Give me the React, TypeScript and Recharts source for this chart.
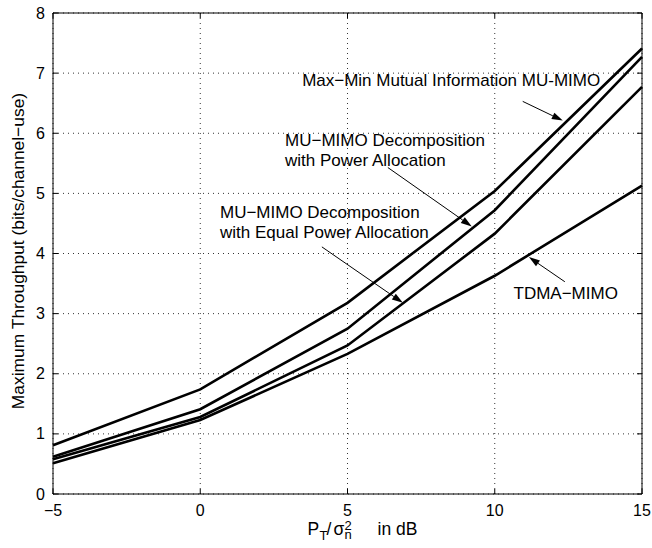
import React from "react";
import {
  LineChart, Line, XAxis, YAxis, CartesianGrid, ReferenceLine, ReferenceDot,
} from "recharts";

// SNR points (dB) and the four throughput curves
const snrDb = [-5, 0, 5, 10, 15];
const maxMinMI = [0.81, 1.74, 3.18, 5.04, 7.41];
const decompPowerAlloc = [0.62, 1.41, 2.75, 4.72, 7.27];
const decompEqualPower = [0.58, 1.28, 2.47, 4.33, 6.77];
const tdmaMimo = [0.51, 1.23, 2.33, 3.63, 5.13];

const xTicks = [-5, 0, 5, 10, 15];
const yTicks = [0, 1, 2, 3, 4, 5, 6, 7, 8];

const data = snrDb.map((x, i) => ({
  x,
  maxMin: maxMinMI[i],
  powerAlloc: decompPowerAlloc[i],
  equalPower: decompEqualPower[i],
  tdma: tdmaMimo[i],
}));

// annotation text + arrows, in data coordinates
const notes = [
  { x: 8.52, y: 6.89, anchor: "middle", lines: ["Max\u2212Min Mutual Information MU-MIMO"] },
  { x: 2.88, y: 5.88, anchor: "start", lines: ["MU\u2212MIMO Decomposition", "with Power Allocation"] },
  { x: 0.67, y: 4.69, anchor: "start", lines: ["MU\u2212MIMO Decomposition", "with Equal Power Allocation"] },
  { x: 12.41, y: 3.34, anchor: "middle", lines: ["TDMA\u2212MIMO"] },
];
const arrows = [
  [{ x: 10.95, y: 6.53 }, { x: 12.31, y: 6.21 }],
  [{ x: 6.37, y: 5.43 }, { x: 9.22, y: 4.45 }],
  [{ x: 4.13, y: 4.11 }, { x: 6.88, y: 3.18 }],
  [{ x: 12.38, y: 3.53 }, { x: 11.16, y: 3.94 }],
];

const W = 652;
const H = 548;
const LEFT = 53;
const TOP = 13;
const RIGHT = 10;
const BOTTOM = 54;
const PLOT_W = W - LEFT - RIGHT;
const PLOT_H = H - TOP - BOTTOM;
const FONT = '"Liberation Sans", Arial, Helvetica, sans-serif';

const fmt = (v: number) => String(v).replace("-", "\u2212");

function XTick(props: any) {
  const { x, payload } = props;
  const axisY = TOP + PLOT_H;
  return (
    <g>
      <line x1={x} y1={axisY} x2={x} y2={axisY - 5} stroke="#000" />
      <line x1={x} y1={TOP} x2={x} y2={TOP + 5} stroke="#000" />
      <text x={x} y={axisY + 22} textAnchor="middle" fontSize={16} fontFamily={FONT} fill="#000">
        {fmt(payload.value)}
      </text>
    </g>
  );
}

function YTick(props: any) {
  const { y, payload } = props;
  return (
    <g>
      <line x1={LEFT} y1={y} x2={LEFT + 5} y2={y} stroke="#000" />
      <line x1={LEFT + PLOT_W} y1={y} x2={LEFT + PLOT_W - 5} y2={y} stroke="#000" />
      <text x={LEFT - 8} y={y + 5.5} textAnchor="end" fontSize={16} fontFamily={FONT} fill="#000">
        {fmt(payload.value)}
      </text>
    </g>
  );
}

function XLabel(props: any) {
  const { viewBox } = props;
  const x0 = viewBox.x + viewBox.width / 2 - 40;
  const y0 = 535;
  return (
    <text x={x0} y={y0} fontSize={17.5} fontFamily={FONT} fill="#000">
      <tspan x={x0} y={y0}>P</tspan>
      <tspan x={x0 + 12} y={y0 + 5} fontSize={13}>T</tspan>
      <tspan x={x0 + 19} y={y0}>/</tspan>
      <tspan x={x0 + 26} y={y0}>σ</tspan>
      <tspan x={x0 + 37} y={y0 + 3.5} fontSize={13}>n</tspan>
      <tspan x={x0 + 37} y={y0 - 5} fontSize={13}>2</tspan>
      <tspan x={x0 + 70} y={y0}>in dB</tspan>
    </text>
  );
}

function YLabel() {
  const cx = 18;
  const cy = 251;
  return (
    <text x={cx} y={cy} transform={`rotate(-90 ${cx} ${cy})`} textAnchor="middle"
      dominantBaseline="central" fontSize={17.4} fontFamily={FONT} fill="#000">
      Maximum Throughput (bits/channel{"\u2212"}use)
    </text>
  );
}

function ArrowShape(props: any) {
  const { x1, y1, x2, y2 } = props;
  const a = Math.atan2(y2 - y1, x2 - x1);
  const len = 11;
  const half = 3.5;
  const bx = x2 - len * Math.cos(a);
  const by = y2 - len * Math.sin(a);
  const px = -Math.sin(a) * half;
  const py = Math.cos(a) * half;
  return (
    <g>
      <line x1={x1} y1={y1} x2={bx} y2={by} stroke="#000" strokeWidth={1} />
      <polygon points={`${x2},${y2} ${bx + px},${by + py} ${bx - px},${by - py}`} fill="#000" />
    </g>
  );
}

function noteLabel(note: (typeof notes)[number]) {
  return (p: any) => {
    const { viewBox } = p;
    return (
      <text x={viewBox.x} y={viewBox.y} textAnchor={note.anchor} fontSize={17} fontFamily={FONT} fill="#000">
        {note.lines.map((t, i) => (
          <tspan key={i} x={viewBox.x} dy={i === 0 ? 6 : 20}>{t}</tspan>
        ))}
      </text>
    );
  };
}

export default function App() {
  return (
    <div style={{ position: "absolute", left: 0, top: 0, width: W, height: H, background: "#fff" }}>
      <LineChart width={W} height={H} data={data} margin={{ top: TOP, right: RIGHT, left: 0, bottom: 0 }}>
        <CartesianGrid stroke="#000" strokeDasharray="1 4" strokeWidth={0.8} />
        <XAxis dataKey="x" type="number" domain={[-5, 15]} ticks={xTicks} height={BOTTOM}
          axisLine={{ stroke: "#000" }} tickLine={false} tick={<XTick />} label={<XLabel />} />
        <YAxis type="number" domain={[0, 8]} ticks={yTicks} width={LEFT}
          axisLine={{ stroke: "#000" }} tickLine={false} tick={<YTick />} label={<YLabel />} />
        <ReferenceLine y={8} stroke="#000" />
        <ReferenceLine x={15} stroke="#000" />
        <Line dataKey="maxMin" stroke="#000" strokeWidth={2.6} dot={false} isAnimationActive={false} type="linear" />
        <Line dataKey="powerAlloc" stroke="#000" strokeWidth={2.6} dot={false} isAnimationActive={false} type="linear" />
        <Line dataKey="equalPower" stroke="#000" strokeWidth={2.6} dot={false} isAnimationActive={false} type="linear" />
        <Line dataKey="tdma" stroke="#000" strokeWidth={2.6} dot={false} isAnimationActive={false} type="linear" />
        {arrows.map((seg, i) => (
          <ReferenceLine key={`a${i}`} segment={seg} shape={<ArrowShape />} />
        ))}
        {notes.map((n, i) => (
          <ReferenceDot key={`n${i}`} x={n.x} y={n.y} r={0} fill="none" stroke="none" label={noteLabel(n)} />
        ))}
      </LineChart>
    </div>
  );
}
